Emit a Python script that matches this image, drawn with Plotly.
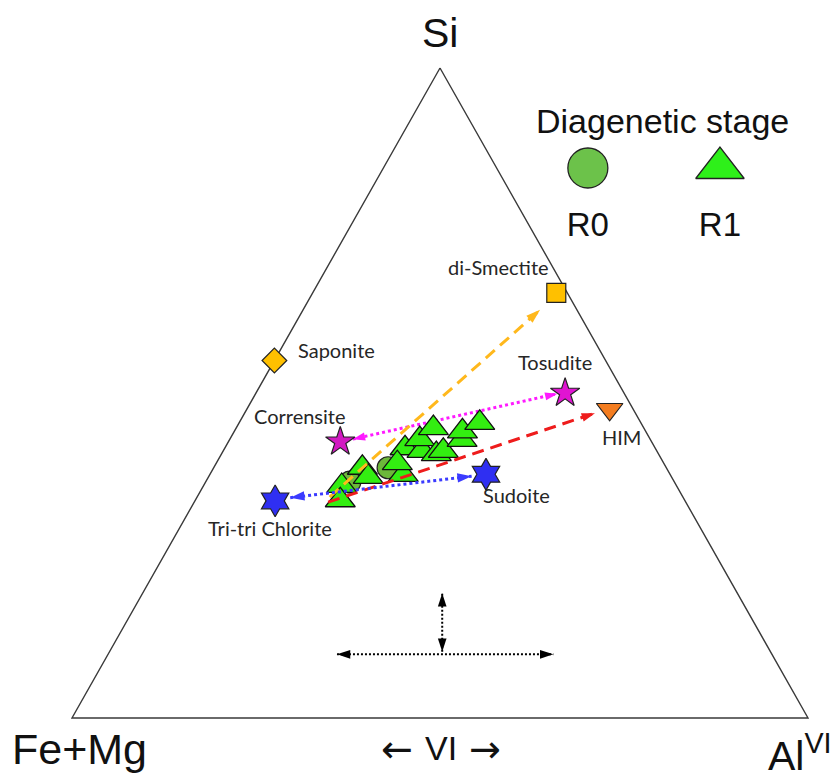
import plotly.graph_objects as go

# ---------------- data (ternary fractions: Si, Fe+Mg, Al VI) ----------------
# R1 samples (triangles)
r1_si   = [0.385, 0.371, 0.357, 0.335, 0.415, 0.374, 0.392, 0.411, 0.429, 0.446, 0.406, 0.411, 0.428, 0.441, 0.454]
r1_femg = [0.413, 0.412, 0.455, 0.468, 0.340, 0.363, 0.362, 0.319, 0.313, 0.286, 0.302, 0.290, 0.256, 0.249, 0.219]
r1_al   = [0.202, 0.217, 0.188, 0.197, 0.245, 0.263, 0.246, 0.270, 0.258, 0.268, 0.292, 0.299, 0.316, 0.310, 0.327]

# R0 samples (circles)
r0_si   = [0.385, 0.363]
r0_femg = [0.378, 0.441]
r0_al   = [0.237, 0.196]

# end-members
em_names = ["Saponite", "di-Smectite", "Tosudite", "HIM", "Corrensite", "Sudoite", "Tri-tri Chlorite"]
em_si    = [0.550, 0.654, 0.500, 0.475, 0.425, 0.375, 0.334]
em_femg  = [0.450, 0.015, 0.080, 0.032, 0.423, 0.250, 0.557]
em_al    = [0.000, 0.331, 0.420, 0.493, 0.152, 0.375, 0.109]
em_symbols = ["diamond", "square", "star", "triangle-down", "star", "hexagram", "hexagram"]
em_colors  = ["#ffc000", "#ffc000", "#e014d2", "#f47d20", "#d21ac2", "#2f2ff2", "#2f2ff2"]
em_sizes   = [19, 19, 22, 23, 22, 24, 24]
em_label_dx = [22, -58, -10, 12, -40, 30, -5]
em_label_dy = [11, 26, 31, -28, 26, -21, -27]
em_label_anchor = ["left", "center", "center", "center", "center", "center", "center"]

# trend arrows: (Si, Fe+Mg, Al) start/end, colour, dash, double-headed?
arrow_start = [(0.340, 0.480, 0.180), (0.332, 0.486, 0.182), (0.429, 0.404, 0.167), (0.339, 0.534, 0.127)]
arrow_end   = [(0.628, 0.050, 0.322), (0.469, 0.055, 0.476), (0.499, 0.091, 0.410), (0.372, 0.271, 0.357)]
arrow_color = ["#ffb81c", "#ee1c1c", "#ff1aff", "#3b3bff"]
arrow_dash  = ["12px,7px", "12px,7px", "3px,3px", "3px,3px"]
arrow_double = [False, False, True, True]
arrow_head = [15, 14, 13, 15]

# schematic direction key (black dotted)
key_start = [(0.102, 0.446, 0.452), (0.098, 0.591, 0.311)]
key_end   = [(0.192, 0.401, 0.407), (0.098, 0.297, 0.605)]

legend_labels = ["R0", "R1"]
corner_labels = ["Si", "Fe+Mg", "Al<sup>VI</sup>"]


def tern_xy(si, femg, al):
    tot = si + femg + al
    si, al = si / tot, al / tot
    return al + si / 2.0, si


def xy_lists(si_list, femg_list, al_list):
    pts = [tern_xy(a, b, c) for a, b, c in zip(si_list, femg_list, al_list)]
    return [p[0] for p in pts], [p[1] for p in pts]


fig = go.Figure()

# triangle frame
fx, fy = xy_lists([1, 0, 0, 1], [0, 1, 0, 0], [0, 0, 1, 0])
fig.add_trace(go.Scatter(x=fx, y=fy, mode="lines", line=dict(color="#3a3a3a", width=1.4),
                         hoverinfo="skip"))


def add_arrow(p0, p1, color, dash, width, head, double):
    x0, y0 = tern_xy(*p0)
    x1, y1 = tern_xy(*p1)
    fig.add_trace(go.Scatter(x=[x0, x1], y=[y0, y1], mode="lines",
                             line=dict(color=color, width=width, dash=dash), hoverinfo="skip"))
    ends = [((x0, y0), (x1, y1))]
    if double:
        ends.append(((x1, y1), (x0, y0)))
    for (ax, ay), (bx, by) in ends:
        fig.add_trace(go.Scatter(x=[ax, bx], y=[ay, by], mode="markers",
                                 marker=dict(symbol="arrow", size=[0, head], color=color, opacity=1,
                                             angleref="previous", line=dict(width=0)),
                                 hoverinfo="skip"))


# magenta arrow below samples
add_arrow(arrow_start[2], arrow_end[2], arrow_color[2], arrow_dash[2], 3, arrow_head[2], arrow_double[2])

# R0 samples
x0s, y0s = xy_lists(r0_si, r0_femg, r0_al)
fig.add_trace(go.Scatter(x=x0s, y=y0s, mode="markers",
                         marker=dict(symbol="circle", size=22, color="#6cb83a", opacity=1,
                                     line=dict(color="#222", width=1.2))))
# R1 samples
x1s, y1s = xy_lists(r1_si, r1_femg, r1_al)
fig.add_trace(go.Scatter(x=x1s, y=y1s, mode="markers",
                         marker=dict(symbol="triangle-up", size=26, color="#33ee11", opacity=1,
                                     line=dict(color="#111", width=1.3))))

# other arrows over samples
for i in [0, 1, 3]:
    add_arrow(arrow_start[i], arrow_end[i], arrow_color[i], arrow_dash[i], 3, arrow_head[i], arrow_double[i])

# key arrows
for s, e in zip(key_start, key_end):
    add_arrow(s, e, "#000000", "2px,2px", 2, 14, True)

# end-members
ex, ey = xy_lists(em_si, em_femg, em_al)
fig.add_trace(go.Scatter(x=ex, y=ey, mode="markers",
                         marker=dict(symbol=em_symbols, size=em_sizes, color=em_colors, opacity=1,
                                     line=dict(color="#222", width=1.2))))
for name, x, y, dx, dy, anc in zip(em_names, ex, ey, em_label_dx, em_label_dy, em_label_anchor):
    fig.add_annotation(x=x, y=y, xref="x", yref="y", text=name, showarrow=False,
                       xshift=dx, yshift=dy, xanchor=anc, yanchor="middle",
                       font=dict(family="Lato, Liberation Sans", size=20, color="#262626"))

# legend (own small axes)
fig.add_trace(go.Scatter(x=legend_labels, y=[1, 1], mode="markers", xaxis="x2", yaxis="y2",
                         marker=dict(symbol=["circle", "triangle-up"], size=[40, 42], opacity=1,
                                     color=["#6cc24a", "#2ef01a"],
                                     line=dict(color="#222", width=1.3))))
fig.add_trace(go.Scatter(x=legend_labels, y=[0, 0], mode="text", text=legend_labels, xaxis="x2", yaxis="y2",
                         textfont=dict(family="Liberation Sans, Arial", size=33, color="#111")))

W, H = 836, 778


def px(x):
    return x / W


def py(y):
    return 1 - y / H


def label(x, y, text, size, family="Liberation Sans, Arial"):
    fig.add_annotation(x=px(x), y=py(y), xref="paper", yref="paper", text=text,
                       showarrow=False, xanchor="center", yanchor="middle",
                       font=dict(family=family, size=size, color="#111"))


label(662, 121, "Diagenetic stage", 34)
label(440, 33, corner_labels[0], 41)
label(79, 749, corner_labels[1], 43)
label(800, 753, corner_labels[2], 41)
label(397, 749, "\u2190", 38, "DejaVu Sans")
label(441, 748, "VI", 34)
label(485, 749, "\u2192", 38, "DejaVu Sans")

fig.update_layout(
    width=W, height=H,
    margin=dict(l=0, r=0, t=0, b=0),
    paper_bgcolor="white", plot_bgcolor="rgba(0,0,0,0)",
    showlegend=False,
    xaxis=dict(range=[-72 / 736, 764 / 736], visible=False, domain=[0, 1], fixedrange=True),
    yaxis=dict(range=[-60 / 650, 718 / 650], visible=False, domain=[0, 1], fixedrange=True),
    xaxis2=dict(domain=[502 / W, 786 / W], range=[-0.65, 1.5], visible=False, anchor="y2",
                type="category", fixedrange=True),
    yaxis2=dict(domain=[1 - 250 / H, 1 - 140 / H], range=[-0.3667, 1.4667], visible=False,
                anchor="x2", fixedrange=True),
    font=dict(family="Liberation Sans, Arial"),
)

fig.write_html("out.html")
